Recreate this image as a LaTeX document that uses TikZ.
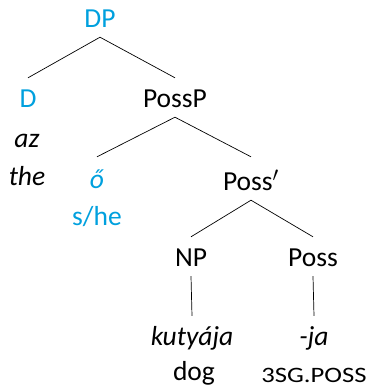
\documentclass[tikz,border=0pt]{standalone}
\usepackage{fontspec}
\setmainfont{Carlito}
\definecolor{treeblue}{RGB}{0,160,222}
\tikzset{
  lbl/.style={anchor=base, inner sep=0pt, outer sep=0pt, text height=0pt, text depth=0pt},
  tn/.style={anchor=base, inner xsep=2bp, inner ysep=10bp, text height=19bp, text depth=0bp},
  blue/.style={text=treeblue},
  edge/.style={draw=black, line width=0.7bp},
}
\begin{document}
\begin{tikzpicture}[x=1bp, y=-1bp, font=\fontsize{27.5bp}{33bp}\selectfont]
\useasboundingbox (0,0) rectangle (370,392);
% nodes (positions = text baselines)
\node[tn, blue] (DP) at (100,27) {DP};
\node[tn, blue] (D) at (28,107) {D};
\node[tn] (PossP) at (175,107) {PossP};
\node[lbl] (az) at (27,147) {\itshape az};
\node[lbl] (the) at (27,185) {\itshape the};
\node[tn, blue, text height=21bp] (o) at (97,188) {\itshape ő};
\node[lbl, blue] (she) at (97,225) {s/he};
\node[tn, text height=23bp] (Possbar) at (251,190) {Poss$'$};
\node[tn] (NP) at (191,266) {NP};
\node[tn] (Poss) at (313,266) {Poss};
\node[tn] (kutyaja) at (192,345) {\itshape kutyája};
\node[tn] (ja) at (314,345) {\itshape -ja};
\node[lbl] (dog) at (194,380) {dog};
\node[lbl] (gloss) at (314,382) {\scalebox{0.97}[0.8]{3SG.POSS}};
% edges
\draw[edge] (DP.south) -- (D.north);
\draw[edge] (DP.south) -- (PossP.north);
\draw[edge] (PossP.south) -- (o.north);
\draw[edge] (PossP.south) -- (Possbar.north);
\draw[edge] (Possbar.south) -- (NP.north);
\draw[edge] (Possbar.south) -- (Poss.north);
\draw[edge] (NP.south) -- (kutyaja.north);
\draw[edge] (Poss.south) -- (ja.north);
\end{tikzpicture}
\end{document}
